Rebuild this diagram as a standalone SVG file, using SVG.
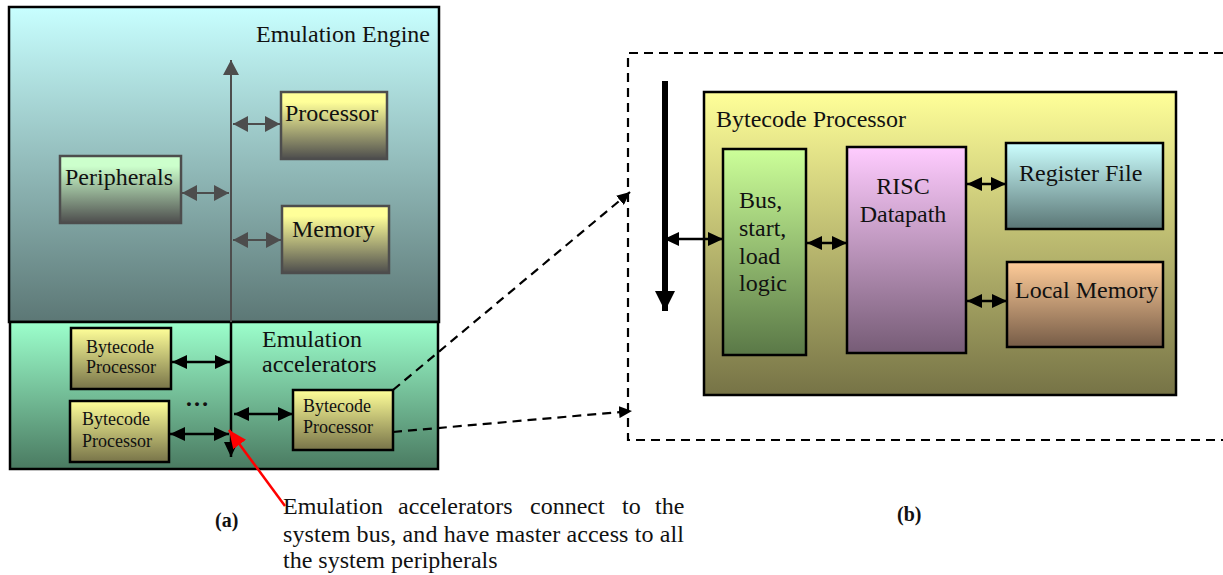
<svg xmlns="http://www.w3.org/2000/svg" width="1223" height="575" viewBox="0 0 1223 575">
<style>
text{font-family:"Liberation Serif","Times New Roman",serif;fill:#111;}
.lg{font-size:24px;}
.sm{font-size:18px;}
.cap{font-size:24px;}
.bold{font-size:20px;font-weight:bold;}
.bx{stroke:#000;stroke-width:2.5;}
.gbx{stroke:#4d4d4d;stroke-width:2.5;}
.ga{stroke:#4d4d4d;stroke-width:2;fill:none;}
.ba{stroke:#000;stroke-width:2.5;fill:none;}
.da{stroke:#000;stroke-width:2.2;stroke-dasharray:9 6;fill:none;}
</style>
<defs>
<linearGradient id="gEE" x1="0" y1="0" x2="0" y2="1"><stop offset="0" stop-color="#c8ffff"/><stop offset="1" stop-color="#5c7775"/></linearGradient>
<linearGradient id="gAcc" x1="0" y1="0" x2="0" y2="1"><stop offset="0" stop-color="#9cffcc"/><stop offset="1" stop-color="#4a7a61"/></linearGradient>
<linearGradient id="gYG" x1="0" y1="0" x2="0" y2="1"><stop offset="0" stop-color="#ffff99"/><stop offset="0.15" stop-color="#ffff99"/><stop offset="1" stop-color="#4d4d4d"/></linearGradient>
<linearGradient id="gPer" x1="0" y1="0" x2="0" y2="1"><stop offset="0" stop-color="#ccffcc"/><stop offset="0.15" stop-color="#ccffcc"/><stop offset="1" stop-color="#4d4d4d"/></linearGradient>
<linearGradient id="gBP" x1="0" y1="0" x2="0" y2="1"><stop offset="0" stop-color="#ffff99"/><stop offset="1" stop-color="#787449"/></linearGradient>
<linearGradient id="gBig" x1="0" y1="0" x2="0" y2="1"><stop offset="0" stop-color="#ffff99"/><stop offset="1" stop-color="#767346"/></linearGradient>
<linearGradient id="gBus" x1="0" y1="0" x2="0" y2="1"><stop offset="0" stop-color="#ccff99"/><stop offset="1" stop-color="#5a7847"/></linearGradient>
<linearGradient id="gRisc" x1="0" y1="0" x2="0" y2="1"><stop offset="0" stop-color="#ffccff"/><stop offset="1" stop-color="#765c76"/></linearGradient>
<linearGradient id="gReg" x1="0" y1="0" x2="0" y2="1"><stop offset="0" stop-color="#ccffff"/><stop offset="1" stop-color="#5a7675"/></linearGradient>
<linearGradient id="gLm" x1="0" y1="0" x2="0" y2="1"><stop offset="0" stop-color="#ffcc99"/><stop offset="1" stop-color="#765c47"/></linearGradient>
<marker id="mg" viewBox="0 0 15 16" refX="15" refY="8" markerWidth="15" markerHeight="16" markerUnits="userSpaceOnUse" orient="auto-start-reverse"><path d="M0,0 L15,8 L0,16 z" fill="#4d4d4d"/></marker>
<marker id="mb" viewBox="0 0 15 14" refX="15" refY="7" markerWidth="15" markerHeight="14" markerUnits="userSpaceOnUse" orient="auto-start-reverse"><path d="M0,0 L15,7 L0,14 z" fill="#000"/></marker>
<marker id="md" viewBox="0 0 13 12" refX="13" refY="6" markerWidth="13" markerHeight="12" markerUnits="userSpaceOnUse" orient="auto"><path d="M0,0 L13,6 L0,12 z" fill="#000"/></marker>
<marker id="mr" viewBox="0 0 18 16" refX="18" refY="8" markerWidth="18" markerHeight="16" markerUnits="userSpaceOnUse" orient="auto"><path d="M0,0 L18,8 L0,16 z" fill="#ff0000"/></marker>
<marker id="mbus" viewBox="0 0 20 20" refX="20" refY="10" markerWidth="20" markerHeight="20" markerUnits="userSpaceOnUse" orient="auto"><path d="M0,0 L20,10 L0,20 z" fill="#000"/></marker>
</defs>

<g id="emulation-engine">
<rect x="9" y="7" width="430" height="315" fill="url(#gEE)" class="bx"/>
<text class="lg" x="430" y="42" text-anchor="end">Emulation Engine</text>
</g>
<g id="emulation-accelerators">
<rect x="10" y="322" width="428" height="147" fill="url(#gAcc)" class="bx"/>
<text class="lg" x="262" y="347">Emulation</text>
<text class="lg" x="262" y="372">accelerators</text>
<text class="lg" x="185" y="406" font-weight="bold">…</text>
</g>
<g id="processor">
<rect x="281" y="92" width="106" height="67" fill="url(#gYG)" class="gbx"/>
<text class="lg" x="285" y="121">Processor</text>
</g>
<g id="peripherals">
<rect x="60" y="156" width="121" height="67" fill="url(#gPer)" class="gbx"/>
<text class="lg" x="65" y="185">Peripherals</text>
</g>
<g id="memory">
<rect x="282" y="206" width="107" height="67" fill="url(#gYG)" class="gbx"/>
<text class="lg" x="292" y="237">Memory</text>
</g>
<g id="bytecode-processor-1">
<rect x="71" y="328" width="100" height="61" fill="url(#gBP)" class="bx"/>
<text class="sm" x="86" y="353">Bytecode</text>
<text class="sm" x="86" y="373">Processor</text>
</g>
<g id="bytecode-processor-2">
<rect x="70" y="401" width="99" height="61" fill="url(#gBP)" class="bx"/>
<text class="sm" x="82" y="425">Bytecode</text>
<text class="sm" x="82" y="447">Processor</text>
</g>
<g id="bytecode-processor-3">
<rect x="293" y="390" width="100" height="60" fill="url(#gBP)" class="bx"/>
<text class="sm" x="303" y="412">Bytecode</text>
<text class="sm" x="303" y="433">Processor</text>
</g>

<g id="detail-frame">
<path d="M1223,53 H628 V440 H1223" class="da"/>
</g>
<g id="bytecode-processor-detail">
<rect x="704" y="92" width="472" height="303" fill="url(#gBig)" class="bx"/>
<text class="lg" x="716" y="127">Bytecode Processor</text>
</g>
<g id="bus-logic">
<rect x="723" y="149" width="83" height="206" fill="url(#gBus)" class="bx"/>
<text class="lg" x="739" y="208">Bus,</text>
<text class="lg" x="739" y="236">start,</text>
<text class="lg" x="739" y="264">load</text>
<text class="lg" x="739" y="291">logic</text>
</g>
<g id="risc-datapath">
<rect x="847" y="147" width="119" height="206" fill="url(#gRisc)" class="bx"/>
<text class="lg" x="903" y="194" text-anchor="middle">RISC</text>
<text class="lg" x="903" y="222" text-anchor="middle">Datapath</text>
</g>
<g id="register-file">
<rect x="1006" y="143" width="157" height="86" fill="url(#gReg)" class="bx"/>
<text class="lg" x="1019" y="181">Register File</text>
</g>
<g id="local-memory">
<rect x="1007" y="262" width="156" height="85" fill="url(#gLm)" class="bx"/>
<text class="lg" x="1015" y="298">Local Memory</text>
</g>

<g id="connectors">
<line x1="231" y1="322" x2="231" y2="60" class="ga" marker-end="url(#mg)"/>
<line x1="231" y1="322" x2="231" y2="457" stroke="#000" stroke-width="2.5" marker-end="url(#mb)"/>
<line x1="233" y1="124" x2="280" y2="124" class="ga" marker-start="url(#mg)" marker-end="url(#mg)"/>
<line x1="182" y1="193" x2="229" y2="193" class="ga" marker-start="url(#mg)" marker-end="url(#mg)"/>
<line x1="233" y1="240" x2="281" y2="240" class="ga" marker-start="url(#mg)" marker-end="url(#mg)"/>
<line x1="172" y1="362" x2="230" y2="362" class="ba" marker-start="url(#mb)" marker-end="url(#mb)"/>
<line x1="170" y1="434" x2="229" y2="434" class="ba" marker-start="url(#mb)" marker-end="url(#mb)"/>
<line x1="234" y1="414" x2="293" y2="414" class="ba" marker-start="url(#mb)" marker-end="url(#mb)"/>
<line x1="393" y1="390" x2="630" y2="192" class="da" marker-end="url(#md)"/>
<line x1="393" y1="432" x2="632" y2="411" class="da" marker-end="url(#md)"/>
<line x1="665" y1="81" x2="665" y2="311" stroke="#000" stroke-width="6" marker-end="url(#mbus)"/>
<line x1="285" y1="506" x2="229" y2="430" stroke="#ff0000" stroke-width="2.5" marker-end="url(#mr)"/>
<line x1="664" y1="239" x2="723" y2="239" class="ba" marker-start="url(#mb)" marker-end="url(#mb)"/>
<line x1="807" y1="243" x2="847" y2="243" class="ba" marker-start="url(#mb)" marker-end="url(#mb)"/>
<line x1="967" y1="184" x2="1006" y2="184" class="ba" marker-start="url(#mb)" marker-end="url(#mb)"/>
<line x1="967" y1="301" x2="1007" y2="301" class="ba" marker-start="url(#mb)" marker-end="url(#mb)"/>
</g>

<g id="labels">
<text class="bold" x="215" y="527">(a)</text>
<text class="bold" x="897" y="521">(b)</text>
<text class="cap" y="514"><tspan x="283">Emulation</tspan><tspan x="398">accelerators</tspan><tspan x="530">connect</tspan><tspan x="622">to</tspan><tspan x="655">the</tspan></text>
<text class="cap" x="283" y="542" textLength="401" lengthAdjust="spacing">system bus, and have master access to all</text>
<text class="cap" x="283" y="568">the system peripherals</text>
</g>
</svg>
